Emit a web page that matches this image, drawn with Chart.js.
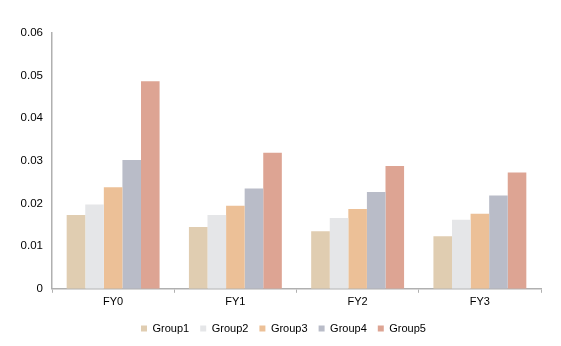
<!DOCTYPE html>
<html lang="en">
  <head>
    <meta charset="UTF-8" />
    <title>Groups by FY</title>
    <style>
      html, body { margin: 0; padding: 0; background: #fff; }
      #box { width: 561px; height: 346px; }
    </style>
  </head>
  <body>
    <div id="box"><canvas id="myChart"></canvas></div>
    <script src="https://cdn.jsdelivr.net/npm/chart.js"></script>
    <script>
      const categorias = ["FY0", "FY1", "FY2", "FY3"];
      const grupos = ["Group1", "Group2", "Group3", "Group4", "Group5"];
      const group1 = [0.0173, 0.0145, 0.0135, 0.0123];
      const group2 = [0.0198, 0.0173, 0.0166, 0.0162];
      const group3 = [0.0238, 0.0195, 0.0187, 0.0176];
      const group4 = [0.0302, 0.0235, 0.0227, 0.0219];
      const group5 = [0.0487, 0.0319, 0.0288, 0.0273];
      const yTicks = [0, 0.01, 0.02, 0.03, 0.04, 0.05, 0.06];

      const cores = ["#e0cdb1", "#e5e6e8", "#ecc097", "#b9bcc8", "#dda493"];
      const valores = [group1, group2, group3, group4, group5];

      Chart.defaults.font.family = "'Liberation Sans', Arial, sans-serif";
      Chart.defaults.font.size = 11;
      Chart.defaults.color = "#000";

      // the legend sits a bit right of the canvas centre in the original
      const moverLegenda = {
        id: "moverLegenda",
        afterLayout: function (chart) {
          chart.legend.left += 13;
          chart.legend.right += 13;
        },
      };

      const data = {
        labels: categorias,
        datasets: grupos.map(function (g, i) {
          return {
            label: g,
            data: valores[i],
            backgroundColor: cores[i],
            borderWidth: 0,
            categoryPercentage: 0.76,
            barPercentage: 1.0,
          };
        }),
      };

      const config = {
        type: "bar",
        data: data,
        plugins: [moverLegenda],
        options: {
          responsive: true,
          maintainAspectRatio: false,
          animation: false,
          layout: { padding: { top: 33, right: 20, left: 0, bottom: 2 } },
          plugins: {
            tooltip: { enabled: false },
            legend: {
              position: "bottom",
              labels: {
                boxWidth: 6,
                boxHeight: 6,
                padding: 11,
                color: "#000",
              },
            },
          },
          scales: {
            x: {
              grid: {
                display: true,
                offset: true,
                drawOnChartArea: false,
                drawTicks: true,
                tickLength: 4,
                color: "#b0b0b0",
              },
              border: { color: "#b0b0b0", width: 1.5 },
              ticks: { padding: 3 },
            },
            y: {
              min: 0,
              max: 0.06,
              afterBuildTicks: function (axis) {
                axis.ticks = yTicks.map(function (v) { return { value: v }; });
              },
              afterFit: function (axis) { axis.width = 52; },
              grid: { display: false, drawTicks: false },
              border: { color: "#b0b0b0", width: 1.5 },
              ticks: {
                padding: 9,
                font: { size: 11.5 },
                callback: function (v) { return String(Number(v.toFixed(2))); },
              },
            },
          },
        },
      };

      new Chart(document.getElementById("myChart"), config);
    </script>
  </body>
</html>
